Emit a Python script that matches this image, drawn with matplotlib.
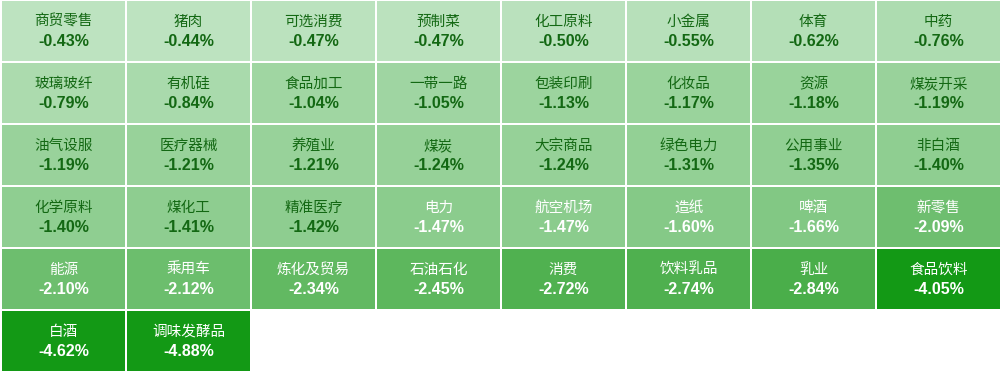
import numpy as np
import matplotlib.pyplot as plt
from matplotlib.patches import Rectangle

# Data
names = ['商贸零售', '猪肉', '可选消费', '预制菜', '化工原料', '小金属', '体育', '中药',
         '玻璃玻纤', '有机硅', '食品加工', '一带一路', '包装印刷', '化妆品', '资源', '煤炭开采',
         '油气设服', '医疗器械', '养殖业', '煤炭', '大宗商品', '绿色电力', '公用事业', '非白酒',
         '化学原料', '煤化工', '精准医疗', '电力', '航空机场', '造纸', '啤酒', '新零售',
         '能源', '乘用车', '炼化及贸易', '石油石化', '消费', '饮料乳品', '乳业', '食品饮料',
         '白酒', '调味发酵品']
changes = [-0.43, -0.44, -0.47, -0.47, -0.50, -0.55, -0.62, -0.76,
           -0.79, -0.84, -1.04, -1.05, -1.13, -1.17, -1.18, -1.19,
           -1.19, -1.21, -1.21, -1.24, -1.24, -1.31, -1.35, -1.40,
           -1.40, -1.41, -1.42, -1.47, -1.47, -1.60, -1.66, -2.09,
           -2.10, -2.12, -2.34, -2.45, -2.72, -2.74, -2.84, -4.05,
           -4.62, -4.88]

NCOLS = 8
light = np.array([189, 227, 192]) / 255
mid = np.array([74, 174, 74]) / 255
dark = np.array([19, 153, 21]) / 255


def cell_color(v):
    # light -> mid gradient, anything below -3% is the solid dark green
    if v <= -3:
        return dark
    t = np.clip((-v - 0.43) / (2.84 - 0.43), 0, 1)
    return light + t * (mid - light)


fig = plt.figure(figsize=(10.04, 3.76), dpi=100)
ax = fig.add_axes([0, 0, 1, 1])
ax.set_xlim(0, 1004)
ax.set_ylim(376, 0)
ax.axis('off')

cw, ch = 125, 62
for i, (name, v) in enumerate(zip(names, changes)):
    col, row = i % NCOLS, i // NCOLS
    x0 = col * cw + 2
    y0 = row * ch + 1
    ax.add_patch(Rectangle((x0, y0), cw - 2, ch - 2, facecolor=cell_color(v), edgecolor='none'))
    tc = '#136813' if v > -1.45 else 'white'
    cx = x0 + (cw - 2) / 2
    cy = y0 + (ch - 2) / 2
    ax.text(cx, cy - 9, name, ha='center', va='center', fontsize=10.5, color=tc,
            family=['Noto Sans CJK SC', 'DejaVu Sans'])
    ax.text(cx, cy + 11, f'{v:.2f}%', ha='center', va='center', fontsize=11.5, color=tc,
            fontweight='bold', family=['Liberation Sans', 'DejaVu Sans'])

fig.savefig('out.png', dpi=100)
